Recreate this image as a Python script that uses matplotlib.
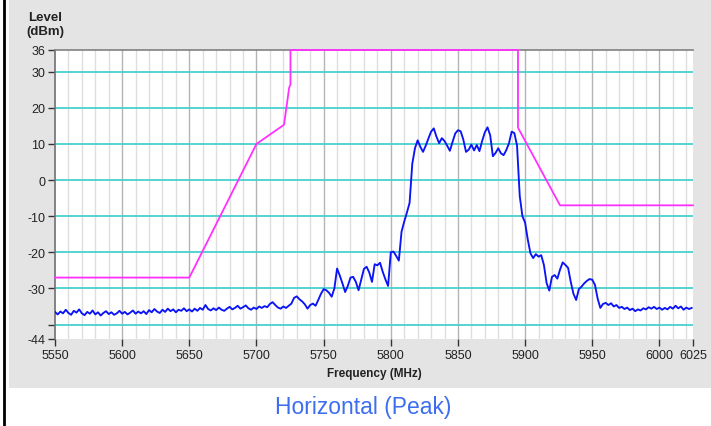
import matplotlib
matplotlib.use("Agg")
import matplotlib.pyplot as plt
import numpy as np
from matplotlib.lines import Line2D
from matplotlib.patches import Rectangle

plt.rcParams["font.family"] = ["Liberation Sans", "DejaVu Sans"]

# spectrum sweep, 2 MHz steps from 5550 MHz
sweep_start = 5550
sweep_step = 2
trace_dbm = [
    -36.5, -37.2, -36.4, -36.9, -35.9, -36.8, -37.3, -36.2, -36.7, -35.8,
    -36.9, -37.4, -36.5, -37.0, -36.1, -37.2, -36.6, -37.5, -36.8, -36.3,
    -37.1, -36.6, -37.3, -36.9, -36.2, -37.0, -36.5, -37.2, -36.7, -36.1,
    -37.0, -36.4, -36.9, -36.3, -37.1, -36.0, -36.6, -35.7, -36.4, -36.8,
    -35.9, -36.5, -35.6, -36.3, -35.8, -36.6, -35.9, -36.2, -35.5, -36.3,
    -35.8, -36.4, -35.6, -36.2, -35.4, -35.9, -34.6, -35.7, -36.1, -35.5,
    -36.0, -35.3, -35.9, -36.2, -35.6, -35.1, -35.8, -35.4, -34.8, -35.6,
    -35.2, -34.7, -35.5, -35.9, -35.3, -35.7, -35.0, -35.4, -34.9, -35.2,
    -34.3, -33.8, -34.6, -35.3, -35.6, -35.0, -35.4, -34.8, -34.2, -32.6,
    -32.2, -33.0, -33.6, -34.4, -35.6, -34.6, -34.2, -34.8, -33.2, -31.5,
    -30.2, -30.5, -31.2, -32.3, -30.0, -24.5, -26.4, -28.6, -31.0, -29.3,
    -27.0, -26.8, -28.2, -30.5, -27.5, -24.6, -24.0, -25.6, -28.2, -23.3,
    -23.6, -22.9, -25.4, -27.5, -29.3, -20.0, -19.8, -21.0, -22.3, -14.3,
    -11.5, -9.0, -6.3, 4.5, 8.8, 11.0, 9.2, 7.8, 9.5, 11.5,
    13.4, 14.3, 12.0, 10.2, 11.6, 10.8, 9.5, 8.1, 10.6, 12.9,
    13.8, 13.5, 11.2, 7.8, 8.4, 9.8, 8.2, 9.7, 8.0, 10.8,
    13.2, 14.6, 12.4, 6.6, 7.5, 8.8, 7.4, 6.9, 8.3, 10.2,
    13.4, 13.0, 9.5, -4.4, -10.0, -11.8, -16.5, -20.3, -21.6, -20.5,
    -21.2, -20.8, -23.5, -28.5, -30.6, -26.8, -26.3, -27.3, -24.8, -22.8,
    -23.5, -24.3, -28.2, -31.5, -33.2, -30.2, -29.5, -28.6, -27.9, -27.4,
    -27.6, -29.0, -32.8, -35.4, -34.3, -34.0, -34.6, -34.1, -35.0, -34.6,
    -35.4, -35.1, -35.7, -35.3, -36.0, -35.6, -36.3, -35.8, -36.1, -35.5,
    -35.8, -35.2, -35.6, -35.1, -35.7, -35.3, -35.9, -35.4, -35.8, -35.1,
    -35.6, -34.8, -35.5, -35.0, -35.9, -35.3, -35.7, -35.4,
]
trace_mhz = sweep_start + sweep_step * np.arange(len(trace_dbm))

# emission limit mask
mask_mhz = [5550, 5650, 5700, 5720.5, 5724.3, 5725.3, 5725.3, 5894.7, 5894.7, 5926, 6025]
mask_dbm = [-27, -27, 10, 15.3, 25.5, 26.5, 36, 36, 14.5, -7, -7]

x_ticks = [5550, 5600, 5650, 5700, 5750, 5800, 5850, 5900, 5950, 6000, 6025]
y_ticks = [36, 30, 20, 10, 0, -10, -20, -30, -40, -44]
y_labels = ["36", "30", "20", "10", "0", "-10", "-20", "-30", "", "-44"]

W, H = 711, 427
fig = plt.figure(figsize=(W / 100, H / 100), dpi=100)
fig.patch.set_facecolor("white")
fig.patches.append(Rectangle((9 / W, 1 - 389 / H), 1, 389 / H, transform=fig.transFigure,
                             facecolor="#e4e4e4", edgecolor="none", zorder=-5))
fig.lines.append(Line2D([4 / W, 4 / W], [0, 1], transform=fig.transFigure,
                        color="black", linewidth=2, zorder=-4))

ax = fig.add_axes([55 / W, 1 - 340 / H, (693 - 55) / W, (340 - 51) / H])
ax.set_zorder(1)
ax.set_facecolor("white")
ax.set_xlim(5550, 6025)
ax.set_ylim(-44, 36)

for f in range(5560, 6025, 10):
    if f % 50 == 0:
        ax.axvline(f, color="#b4b4b4", linewidth=1.0, zorder=1)
    else:
        ax.axvline(f, color="#dedede", linewidth=1.0, zorder=1)
for lv in [30, 20, 10, 0, -10, -20, -30, -40]:
    ax.axhline(lv, color="#48d0d0", linewidth=1.3, zorder=2)

ax.plot(mask_mhz, mask_dbm, color="#ff30ff", linewidth=1.3, zorder=4, clip_on=False)
ax.plot(trace_mhz, trace_dbm, color="#0a14f5", linewidth=1.35, zorder=5)

ax.set_xticks(x_ticks)
ax.set_xticklabels([str(t) for t in x_ticks])
ax.set_yticks(y_ticks)
ax.set_yticklabels(y_labels)
ax.tick_params(axis="both", direction="out", length=5, width=1, color="#333333",
               labelsize=9, labelcolor="#222222", pad=2)

for side in ["right", "bottom"]:
    ax.spines[side].set_visible(False)
ax.spines["left"].set_color("#707070")
ax.spines["top"].set_color("#808080")
ax.spines["left"].set_linewidth(1.2)
ax.spines["top"].set_linewidth(1.2)

fig.text(45 / W, 1 - 25 / H, "Level\n(dBm)", ha="center", va="center",
         fontsize=9.5, fontweight="bold", color="#222222", linespacing=1.25)
fig.text(374 / W, 1 - 374 / H, "Frequency (MHz)", ha="center", va="center",
         fontsize=8.5, fontweight="bold", color="#222222")
fig.text(363 / W, 1 - 408 / H, "Horizontal (Peak)", ha="center", va="center",
         fontsize=16.5, color="#3d6ef0")

fig.savefig("out.png", dpi=100)
